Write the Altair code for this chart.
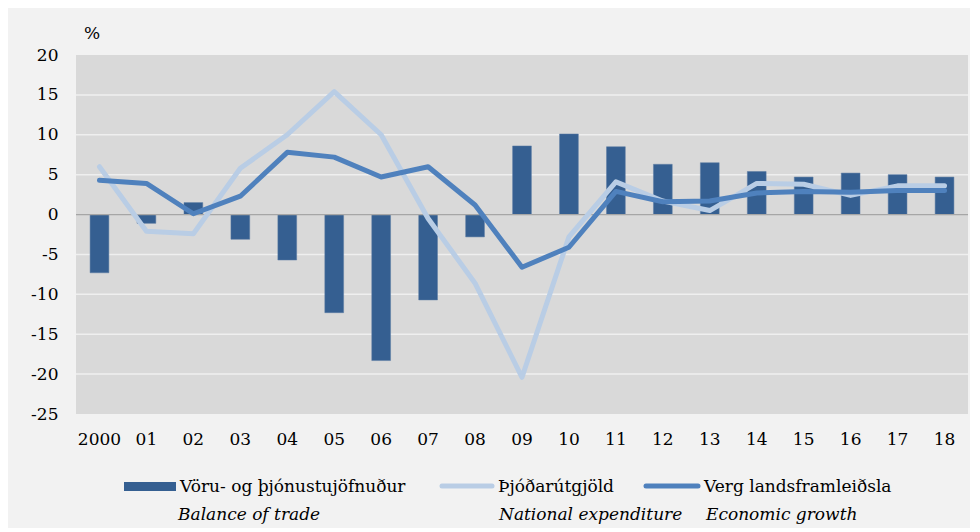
import altair as alt
import pandas as pd

years = ["2000", "01", "02", "03", "04", "05", "06", "07", "08", "09",
         "10", "11", "12", "13", "14", "15", "16", "17", "18"]
trade = [-7.3, -1.1, 1.5, -3.1, -5.7, -12.3, -18.3, -10.7, -2.8, 8.6,
         10.1, 8.5, 6.3, 6.5, 5.4, 4.7, 5.2, 5.0, 4.7]
expenditure = [6.0, -2.1, -2.4, 5.8, 10.0, 15.4, 10.0, -0.5, -8.6, -20.4,
               -2.8, 4.1, 1.7, 0.5, 3.9, 3.8, 2.4, 3.6, 3.6]
growth = [4.3, 3.9, 0.1, 2.3, 7.8, 7.2, 4.7, 6.0, 1.2, -6.6,
          -4.1, 2.9, 1.6, 1.7, 2.7, 2.9, 2.8, 3.0, 3.0]
y_ticks = [-25, -20, -15, -10, -5, 0, 5, 10, 15, 20]
grid_vals = [-20, -15, -10, -5, 5, 10, 15]
unit_label = "%"
legend_names = ["Vöru- og þjónustujöfnuður", "Þjóðarútgjöld", "Verg landsframleiðsla"]
legend_subs = ["Balance of trade", "National expenditure", "Economic growth"]

FONT = "DejaVu Serif"
FS = 17
C_BAR = "#355f91"
C_EXP = "#b9cde5"
C_GDP = "#4f81bd"

df = pd.DataFrame({"year": years, "trade": trade,
                   "expenditure": expenditure, "growth": growth})

xscale = alt.Scale(paddingInner=0.6, paddingOuter=0.3)
yscale = alt.Scale(domain=[-25, 20], nice=False, zero=False)


def x_axis():
    return alt.Axis(title=None, labelAngle=0, domain=False, ticks=False, tickSize=0,
                    labelFont=FONT, labelFontSize=FS, labelColor="#000000",
                    labelPadding=17, grid=False, labelOverlap=False)


def y_axis():
    return alt.Axis(title=None, values=y_ticks, domain=False, ticks=False, tickSize=0,
                    labelFont=FONT, labelFontSize=FS, labelColor="#000000",
                    labelPadding=18, grid=False,
                    labelOverlap=False, labelExpr="'' + datum.value")


base = alt.Chart(df)

grid = alt.Chart(pd.DataFrame({"g": grid_vals})).mark_rule(
    color="#efefef", strokeWidth=1.5).encode(
    y=alt.Y("g:Q", scale=yscale, axis=y_axis())
)

bars = base.mark_bar(color=C_BAR, stroke="#5a7aa3", strokeWidth=0.5).encode(
    x=alt.X("year:N", sort=years, scale=xscale, axis=x_axis()),
    y=alt.Y("trade:Q", scale=yscale, axis=y_axis()),
)

zero = alt.Chart(pd.DataFrame({"v": [0]})).mark_rule(color="#a6a6a6", strokeWidth=1.2).encode(
    y=alt.Y("v:Q", scale=yscale, axis=y_axis())
)

line_exp = base.mark_line(color=C_EXP, strokeWidth=5, strokeJoin="round", strokeCap="round").encode(
    x=alt.X("year:N", sort=years, scale=xscale, bandPosition=0.5, axis=x_axis()),
    y=alt.Y("expenditure:Q", scale=yscale, axis=y_axis()),
)

line_gdp = base.mark_line(color=C_GDP, strokeWidth=5, strokeJoin="round", strokeCap="round").encode(
    x=alt.X("year:N", sort=years, scale=xscale, bandPosition=0.5, axis=x_axis()),
    y=alt.Y("growth:Q", scale=yscale, axis=y_axis()),
)


def text_layer(txt, x, y, italic=False, align="left", baseline="alphabetic"):
    return alt.Chart(pd.DataFrame({"t": [txt]})).mark_text(
        font=FONT, fontSize=FS, color="#000000", align=align, baseline=baseline,
        fontStyle="italic" if italic else "normal"
    ).encode(text="t:N", x=alt.value(x), y=alt.value(y))


unit = text_layer(unit_label, 8, -21, baseline="middle")

sym_bar = alt.Chart(pd.DataFrame({"t": [legend_names[0]]})).mark_rect(color=C_BAR).encode(
    x=alt.value(48), x2=alt.value(100), y=alt.value(427), y2=alt.value(436)
)
sym_exp = alt.Chart(pd.DataFrame({"t": [legend_names[1]]})).mark_rule(
    color=C_EXP, strokeWidth=5, strokeCap="round").encode(
    x=alt.value(366), x2=alt.value(416), y=alt.value(431)
)
sym_gdp = alt.Chart(pd.DataFrame({"t": [legend_names[2]]})).mark_rule(
    color=C_GDP, strokeWidth=5, strokeCap="round").encode(
    x=alt.value(570), x2=alt.value(622), y=alt.value(431)
)

leg_texts = [
    text_layer(legend_names[0], 104, 437),
    text_layer(legend_names[1], 422, 437),
    text_layer(legend_names[2], 628, 437),
    text_layer(legend_subs[0], 102, 465, italic=True),
    text_layer(legend_subs[1], 423, 465, italic=True),
    text_layer(legend_subs[2], 630, 465, italic=True),
]

chart = alt.layer(
    grid, bars, zero, line_exp, line_gdp, unit, sym_bar, sym_exp, sym_gdp, *leg_texts
).properties(
    width=892, height=359,
    autosize=alt.AutoSizeParams(type="none"),
    padding={"left": 68, "top": 47, "right": 2, "bottom": 114},
    background="#f2f2f2",
).configure(
    font=FONT
).configure_axis(
    labelFont=FONT, labelOverlap=False
).configure_text(
    font=FONT
).configure_view(
    fill="#d9d9d9", stroke=None
)

chart.save("out.html", embed_options={"renderer": "svg", "actions": False})
